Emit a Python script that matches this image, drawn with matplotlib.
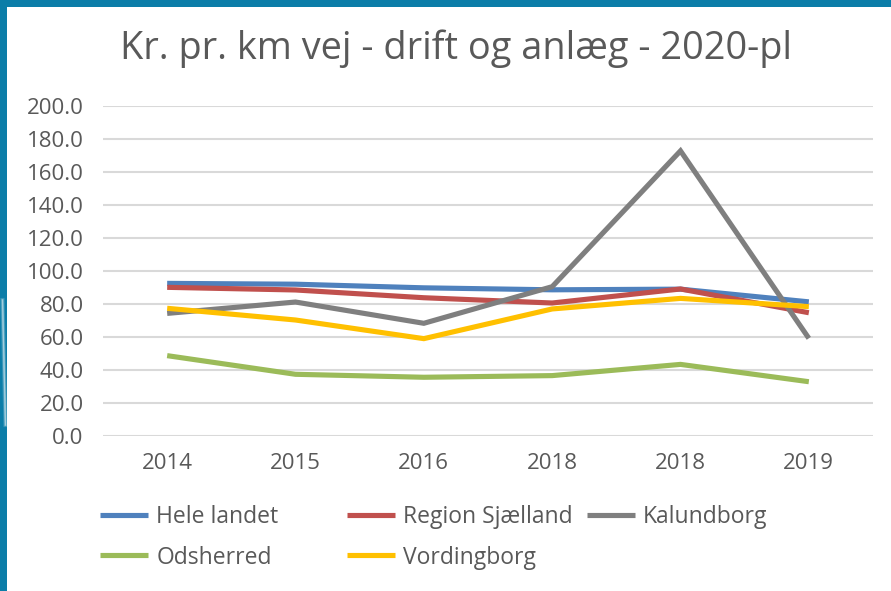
import matplotlib
matplotlib.use("Agg")
import matplotlib.pyplot as plt
from matplotlib.patches import Rectangle
from matplotlib.lines import Line2D

categories = ["2014", "2015", "2016", "2018", "2018", "2019"]
hele_landet = [92.5, 92.0, 89.8, 88.6, 89.0, 81.3]
region_sjaelland = [90.1, 88.5, 83.8, 80.6, 89.1, 74.7]
kalundborg = [74.3, 81.2, 68.3, 90.5, 172.8, 59.2]
odsherred = [48.7, 37.4, 35.6, 36.6, 43.4, 32.9]
vordingborg = [77.4, 70.3, 59.0, 77.0, 83.4, 78.4]

series = [
    ("Hele landet", hele_landet, "#4F81BD"),
    ("Region Sjælland", region_sjaelland, "#C0504D"),
    ("Kalundborg", kalundborg, "#7F7F7F"),
    ("Odsherred", odsherred, "#9BBB59"),
    ("Vordingborg", vordingborg, "#FFC000"),
]
yticks = [0, 20, 40, 60, 80, 100, 120, 140, 160, 180, 200]

W, H = 891, 591
fig = plt.figure(figsize=(W / 100, H / 100), dpi=100)
fig.patch.set_facecolor("#0B7DA8")
panel = Rectangle((7 / W, 0), 1.0, (H - 7) / H,
                  transform=fig.transFigure, facecolor="white",
                  edgecolor="none", zorder=-10)
fig.patches.append(panel)
# subtle light streak on the left frame
for lw, a in [(3.0, 0.18), (1.6, 0.3), (0.8, 0.35)]:
    fig.add_artist(Line2D([2.5 / W, 5.5 / W], [1 - 300 / H, 1 - 425 / H],
                          transform=fig.transFigure, color="white",
                          lw=lw, alpha=a, zorder=-9))

TXT = "#595959"
FONT = "Open Sans"

ax = fig.add_axes([103 / W, (H - 436) / H, 770 / W, 330 / H])
ax.set_zorder(2)
ax.set_facecolor("none")
x = list(range(len(categories)))
lines = {}
for name, vals, col in series:
    (ln,) = ax.plot(x, vals, color=col, lw=3.7, solid_capstyle="butt",
                    solid_joinstyle="miter", zorder=3)
    lines[name] = ln

ax.set_xlim(-0.5, len(categories) - 0.5)
ax.set_ylim(0, 200)
ax.set_yticks(yticks)
ax.set_yticklabels([f"{v:.1f}" for v in yticks])
ax.set_xticks(x)
ax.set_xticklabels(categories)
ax.grid(axis="y", color="#D9D9D9", lw=1.5, zorder=1)
ax.set_axisbelow(True)
for s in ax.spines.values():
    s.set_visible(False)
ax.tick_params(axis="both", length=0, colors=TXT, labelsize=16)
ax.tick_params(axis="y", pad=14)
ax.tick_params(axis="x", pad=12)
for lab in ax.get_xticklabels() + ax.get_yticklabels():
    lab.set_fontfamily(FONT)

fig.text(456 / W, 1 - 49 / H, "Kr. pr. km vej - drift og anlæg - 2020-pl",
         ha="center", va="center", fontsize=27.3, color=TXT, family=FONT,
         zorder=5)

groups = [
    (["Hele landet", "Odsherred"], 100),
    (["Region Sjælland", "Vordingborg"], 347),
    (["Kalundborg"], 587),
]
for names, xpx in groups:
    hs = [Line2D([], [], color=lines[n].get_color(), lw=3.7,
                 solid_capstyle="butt") for n in names]
    leg = fig.legend(hs, names, loc="upper left",
                     bbox_to_anchor=(xpx / W, 1 - 505 / H),
                     frameon=False, handlelength=2.1, handletextpad=0.35,
                     labelspacing=0.72, borderaxespad=0, borderpad=0,
                     prop={"family": FONT, "size": 16.5})
    leg.set_zorder(5)
    for t in leg.get_texts():
        t.set_color(TXT)

fig.savefig("out.png", dpi=100)
